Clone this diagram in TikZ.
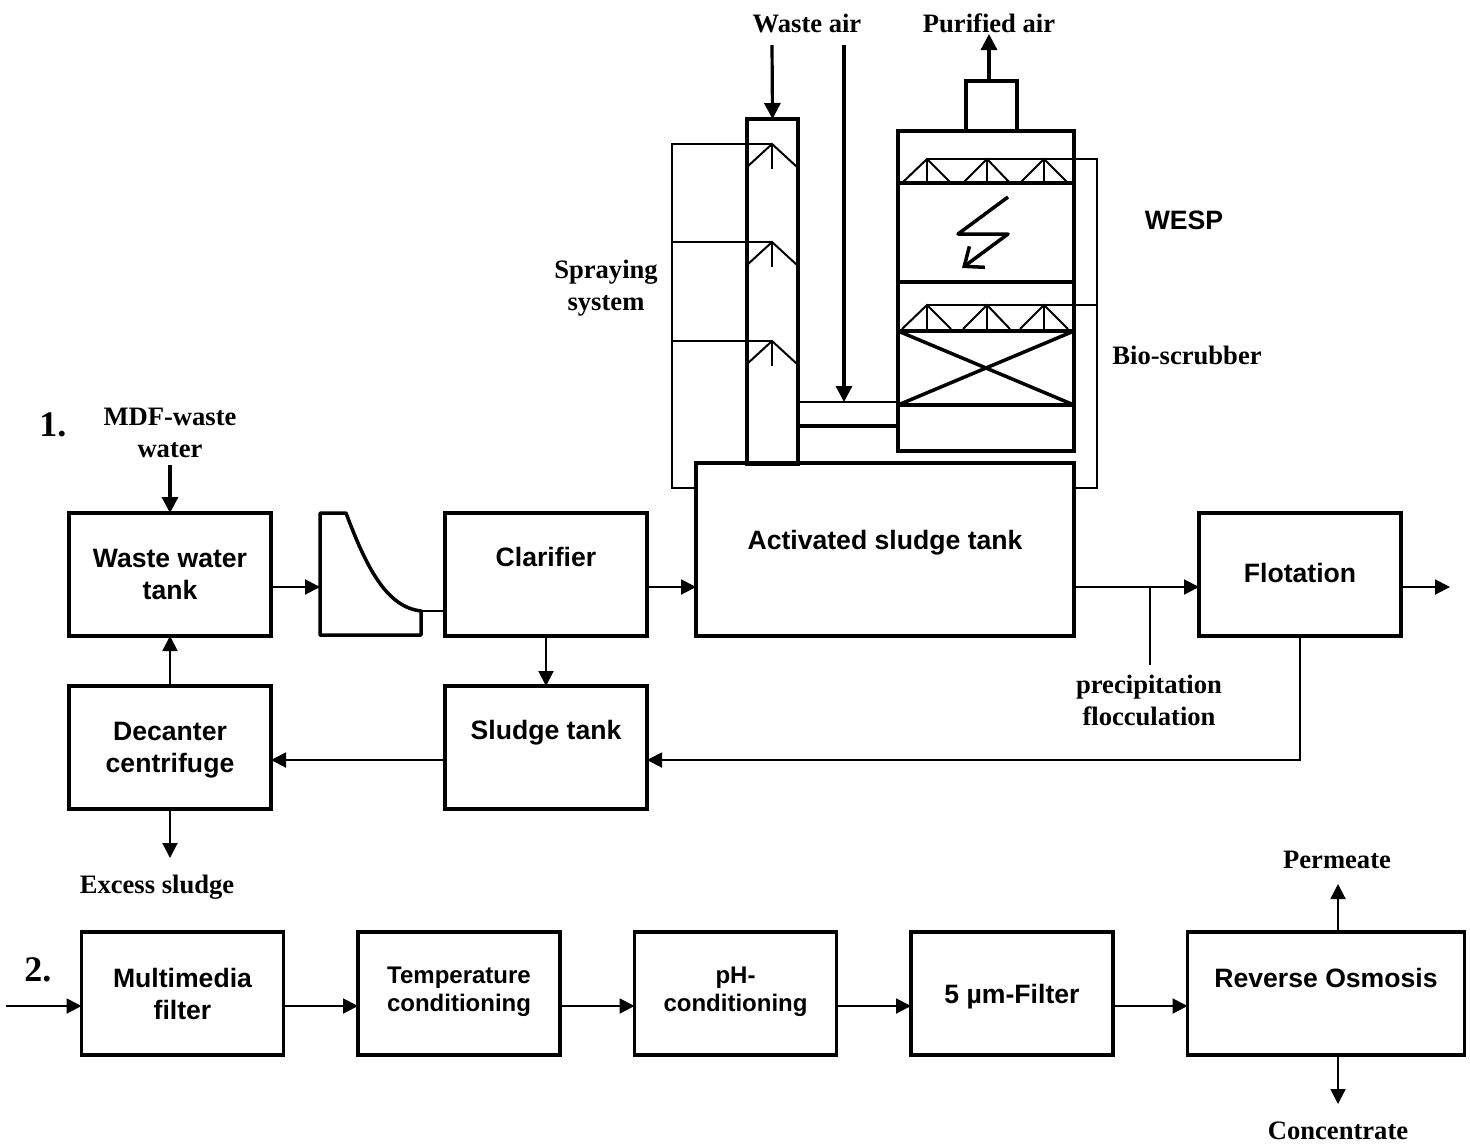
\documentclass[tikz,border=0pt]{standalone}
\usepackage{fontspec}
\setmainfont{Liberation Serif}
\setsansfont{Liberation Sans}
\usetikzlibrary{arrows.meta,positioning}

\begin{document}
\begin{tikzpicture}[
  x=0.5pt,y=-0.5pt,
  node distance=37.25pt,
  flowbox/.style={draw,line width=1.75pt,outer sep=0pt,inner sep=0pt,
    minimum width=101pt,minimum height=61.5pt,align=center,
    font=\fontsize{13.3}{16}\selectfont\sffamily\bfseries},
  smallbox/.style={flowbox,font=\fontsize{12}{14}\selectfont\sffamily\bfseries},
  unit/.style={draw,line width=1.75pt,outer sep=0pt,inner sep=0pt},
  note/.style={align=center,inner sep=0pt,font=\fontsize{13.3}{16}\selectfont\bfseries},
  arr/.style={-{Triangle[length=7.5pt,width=7.5pt]},line width=1pt},
  thickarr/.style={-{Triangle[length=8pt,width=8pt]},line width=1.6pt},
  pipe/.style={line width=1pt},
  wall/.style={line width=1.75pt,line join=round}
]
\useasboundingbox (0,0) rectangle (1470,1146);
% process 1
\node[flowbox] (waste) at (170,574.5) {Waste water\\tank};
\node[flowbox,right=87pt of waste] (clarifier) {Clarifier\\[2pt]\mbox{}};
\node[flowbox,minimum width=189pt,minimum height=86.5pt] (activated) at (885,549.5) {Activated sludge tank\\[-6pt]\mbox{}};
\node[flowbox] (flotation) at (1300,574.5) {Flotation\\[-14pt]\mbox{}};
\node[flowbox,text depth=0pt,below=25pt of waste] (decanter) {Decanter\\centrifuge};
\node[flowbox,below=25pt of clarifier] (sludge) {Sludge tank\\[2pt]\mbox{}};
% settler
\coordinate (settlerin) at (320,587);
\coordinate (settlerout) at (421,611);
\draw[wall] (320,513) -- (346,513) .. controls (368,572) and (388,607) .. (settlerout) -- (421,635) -- (320,635) -- cycle;
% tower and scrubber
\node[unit,minimum width=25.5pt,minimum height=172.5pt] (tower) at (772.5,291.5) {};
\node[unit,minimum width=88pt,minimum height=160pt] (scrubber) at (986,291) {};
\node[unit,minimum width=25.5pt,minimum height=25pt,above=0pt of scrubber.north,xshift=2.75pt] (stack) {};
\coordinate (ducttop) at (798,402);
\coordinate (ductlow) at (798,426);
\draw[line width=1.3pt] (ducttop) -- (ducttop -| scrubber.west);
\draw[wall] (ductlow) -- (ductlow -| scrubber.west);
\foreach \y in {183,282,331,405}
  \draw[wall] (scrubber.west |- 0,\y) -- (scrubber.east |- 0,\y);
\draw[wall] (scrubber.west |- 0,331) -- (scrubber.east |- 0,405);
\draw[wall] (scrubber.west |- 0,405) -- (scrubber.east |- 0,331);
% spraying lines
\draw[pipe] (activated.west |- 0,488) -- (672,488) -- (672,144) -- (772,144);
\foreach \y in {144,242,341} {
  \draw[pipe] (747,\y+23) -- (772,\y) -- (797,\y+23);
  \draw[pipe] (772,\y) -- (772,\y+25);
}
\draw[pipe] (672,242) -- (772,242);
\draw[pipe] (672,341) -- (772,341);
\draw[pipe] (activated.east |- 0,488) -- (1097,488) -- (1097,159) -- (927,159);
\draw[pipe] (1097,305) -- (927,305);
\foreach \y in {159,305}
  \foreach \a/\l/\r in {927/902/951,987/963/1010,1044/1020/1068} {
    \draw[pipe] (\l,\y+24) -- (\a,\y) -- (\r,\y+24);
    \draw[pipe] (\a,\y) -- (\a,\y+24);
  }
% discharge symbol
\draw[line width=1.75pt,line join=round,-{Straight Barb[length=8pt,width=13pt]}] (1008,197) -- (958,234) -- (1008,234) -- (962,268);
% air
\coordinate (airin) at (772,45);
\coordinate (airduct) at (844,45);
\coordinate (airout) at (989,34);
\draw[thickarr] (airin) -- (tower.north);
\draw[thickarr] (airduct) -- (airduct |- ducttop);
\draw[thickarr] (stack.north -| airout) -- (airout);
% connectors
\coordinate (mdfin) at (170,465);
\coordinate (excess) at (170,858);
\coordinate (effluent) at (1450,587);
\coordinate (dosing) at (1150,665);
\draw[thickarr] (mdfin) -- (waste.north);
\draw[arr] ([yshift=-6.25pt]waste.east) -- (settlerin);
\draw[pipe] (settlerout) -- (settlerout -| clarifier.west);
\draw[arr] ([yshift=-6.25pt]clarifier.east) -- ([yshift=-6.25pt]clarifier.east -| activated.west);
\draw[arr] ([yshift=-6.25pt]flotation.west -| activated.east) -- ([yshift=-6.25pt]flotation.west);
\draw[pipe] (dosing) -- (dosing |- effluent);
\draw[arr] ([yshift=-6.25pt]flotation.east) -- (effluent);
\draw[arr] (flotation.south) -- ([yshift=-6.25pt]flotation.south |- sludge.east) -- ([yshift=-6.25pt]sludge.east);
\draw[arr] ([yshift=-6.25pt]sludge.west) -- ([yshift=-6.25pt]decanter.east);
\draw[arr] (clarifier.south) -- (sludge.north);
\draw[arr] (decanter.north) -- (waste.south);
\draw[arr] (decanter.south) -- (excess);
% process 2
\node[flowbox] (multimedia) at (182.5,993.5) {Multimedia\\filter};
\node[smallbox,right=of multimedia] (temperature) {Temperature\\conditioning\\[-10pt]\mbox{}};
\node[smallbox,right=of temperature] (phcond) {pH-\\conditioning\\[-10pt]\mbox{}};
\node[flowbox,text depth=0pt,right=of phcond] (micron) {5 \textmu m-Filter};
\node[flowbox,right=of micron,minimum width=138.5pt] (osmosis) {Reverse Osmosis\\\mbox{}};
\coordinate (feed) at (6,1006);
\coordinate (permeate) at (1338,884);
\coordinate (concentrate) at (1338,1104);
\draw[arr] (feed) -- (feed -| multimedia.west);
\draw[arr] ([yshift=-6.25pt]multimedia.east) -- ([yshift=-6.25pt]temperature.west);
\draw[arr] ([yshift=-6.25pt]temperature.east) -- ([yshift=-6.25pt]phcond.west);
\draw[arr] ([yshift=-6.25pt]phcond.east) -- ([yshift=-6.25pt]micron.west);
\draw[arr] ([yshift=-6.25pt]micron.east) -- ([yshift=-6.25pt]osmosis.west);
\draw[arr] (permeate |- osmosis.north) -- (permeate);
\draw[arr] (concentrate |- osmosis.south) -- (concentrate);
% labels
\node[note,font=\fontsize{18}{20}\selectfont\bfseries] (one) at (53,425) {1.};
\node[note,font=\fontsize{18}{20}\selectfont\bfseries] (two) at (38,970) {2.};
\node[note] (mdf) at (170,433) {MDF-waste\\water};
\node[note] (wasteair) at (807,23) {Waste air};
\node[note] (purified) at (989,23) {Purified air};
\node[note] (spraying) at (606,288) {Spraying\\system};
\node[note,font=\fontsize{13.3}{16}\selectfont\sffamily\bfseries] (wesp) at (1184,220) {WESP};
\node[note] (bio) at (1187,355) {Bio-scrubber};
\node[note] (precip) at (1149,700) {precipitation\\flocculation};
\node[note] (excesslabel) at (157,887) {Excess sludge};
\node[note] (permeatelabel) at (1337,860) {Permeate};
\node[note] (concentratelabel) at (1338,1131) {Concentrate};
\end{tikzpicture}
\end{document}
